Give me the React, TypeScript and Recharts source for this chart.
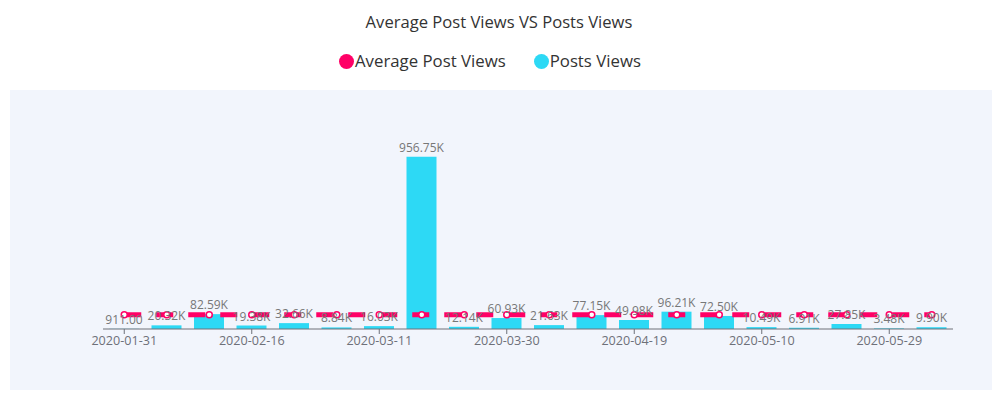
import React from 'react';
import { ComposedChart, Bar, Line, XAxis, YAxis, LabelList } from 'recharts';

// only every third date shows on the axis; the ones in between are filler
const dates = [
  '2020-01-31', '2020-02-05', '2020-02-10', '2020-02-16', '2020-02-23', '2020-03-02',
  '2020-03-11', '2020-03-17', '2020-03-23', '2020-03-30', '2020-04-06', '2020-04-13',
  '2020-04-19', '2020-04-26', '2020-05-03', '2020-05-10', '2020-05-16', '2020-05-22',
  '2020-05-29', '2020-06-04',
];
const postsViews = [
  911, 20320, 82590, 19380, 32660, 8840, 16030, 956750, 12140, 60930,
  21630, 77150, 49980, 96210, 72500, 10490, 6910, 27850, 3480, 9900,
];
const averagePostViews = [
  79330, 79330, 79330, 79330, 79330, 79330, 79330, 79330, 79330, 79330,
  79330, 79330, 79330, 79330, 79330, 79330, 79330, 79330, 79330, 79330,
];

const PINK = '#ff0066';
const CYAN = '#2dd9f5';
const GREY = '#6e7079';
const FONT = '"Open Sans", sans-serif';

const rows = dates.map((d, i) => ({ date: d, views: postsViews[i], avg: averagePostViews[i] }));

const fmt = (v: number) => (v >= 1000 ? (v / 1000).toFixed(2) + 'K' : v.toFixed(2));

const legendItems = [
  { name: 'Average Post Views', color: PINK },
  { name: 'Posts Views', color: CYAN },
];

export default function App() {
  return (
    <div style={{ position: 'relative', width: 998, height: 399, background: '#fff', fontFamily: FONT }}>
      <style>{'body{margin:0}'}</style>
      <div style={{ position: 'absolute', left: 10, top: 90, width: 982, height: 300, background: '#f2f5fc' }} />
      <div style={{ position: 'absolute', top: 11, width: '100%', textAlign: 'center', fontSize: 16.6, color: '#333', lineHeight: '22px' }}>
        Average Post Views VS Posts Views
      </div>
      <div style={{ position: 'absolute', top: 50, left: 339, display: 'flex', gap: 28, fontSize: 16.8, color: '#333', lineHeight: '22px' }}>
        {legendItems.map((it) => (
          <div key={it.name} style={{ display: 'flex', alignItems: 'center' }}>
            <span style={{ width: 15, height: 15, borderRadius: '50%', background: it.color, marginRight: 1 }} />
            {it.name}
          </div>
        ))}
      </div>
      <div style={{ position: 'absolute', left: 0, top: 0 }}>
        <ComposedChart width={998} height={399} data={rows} margin={{ top: 149, right: 45, bottom: 40, left: 103 }}>
          <XAxis
            dataKey="date"
            interval={2}
            tickSize={5}
            axisLine={{ stroke: GREY }}
            tickLine={{ stroke: GREY }}
            tick={{ fill: GREY, fontSize: 12.6, fontFamily: FONT }}
          />
          <YAxis hide domain={[0, 1000000]} />
          <Bar dataKey="views" fill={CYAN} barSize={30} isAnimationActive={false}>
            <LabelList dataKey="views" position="top" offset={5} formatter={(v: number) => fmt(v)} fill="#777" fontSize={12} fontFamily={FONT} />
          </Bar>
          <Line
            dataKey="avg"
            type="linear"
            stroke={PINK}
            strokeWidth={5}
            strokeDasharray="17 15"
            dot={{ r: 3, fill: '#fff', stroke: PINK, strokeWidth: 1.5, strokeDasharray: '' }}
            activeDot={false}
            isAnimationActive={false}
          />
        </ComposedChart>
      </div>
    </div>
  );
}
